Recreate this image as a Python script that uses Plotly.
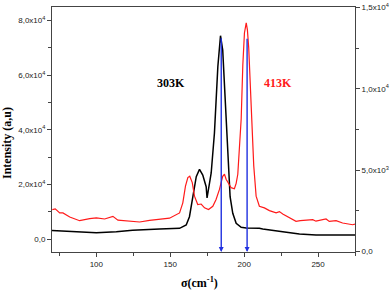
import plotly.graph_objects as go

# 303K (black, left axis)
x_303 = [70, 88.7, 100, 113.5, 124.5, 142.8, 156.3, 160.8, 163, 165.3, 167.6, 169.8, 172.0, 174.3,
         174.9, 177.7, 179.9, 182.2, 184.0, 185.5, 187.2, 188.9, 190.5, 192.3, 194.6, 198.0, 201.4,
         210.3, 212.6, 226.1, 237.4, 248.6, 273.4, 275]
y_303 = [3110, 2450, 2310, 2670, 3190, 3660, 3920, 5130, 8170, 15490, 22820, 25530, 23440, 19160,
         15020, 24180, 38830, 63110, 74470, 69230, 50920, 28940, 15490, 9410, 5750, 4290, 4030,
         3920, 3660, 2670, 1830, 1470, 1470, 1470]

# 413K (red, right axis)
x_413 = [70.2, 72.2, 75.2, 77.4, 82.0, 88.7, 95.5, 100, 105.6, 111.2, 114.6, 122.5, 129.3, 136.0,
         142.8, 149.5, 156.3, 158.5, 160.3, 161.9, 163.2, 164.9, 166.4, 168.6, 170.9, 173.2, 175.9,
         178.8, 181.0, 183.3, 185.5, 186.7, 187.8, 191.2, 193.4, 194.6, 195.7, 196.8, 198.0, 199.1,
         200.2, 201.4, 202.2, 203.1, 204.7, 206.5, 208.1, 210.3, 213.7, 217.1, 221.6, 223.9, 226.1,
         230.6, 235.1, 238.0, 241.9, 246.4, 248.6, 253.1, 255.4, 257.6, 262.2, 266.6, 268.9, 273.4, 275]
y_413 = [2584, 2627, 2379, 2379, 2131, 1902, 2026, 2069, 2007, 2169, 1933, 1884, 1822, 1921,
         2007, 2057, 2379, 2999, 4027, 4548, 4628, 4238, 3408, 2894, 2925, 2689, 2584,
         2788, 3203, 3823, 4628, 4752, 4443, 3928, 3866, 4195, 4752, 6611, 8160, 11463,
         13427, 14047, 13613, 12497, 9399, 5267, 3408, 2788, 2689, 2522, 2379, 2460, 2317,
         2069, 1859, 1902, 1921, 1964, 1871, 1964, 2007, 1859, 1902, 1760, 1729, 1654, 1698]

left_ticks = [0, 20000, 40000, 60000, 80000]
left_labels = ["0,0", "2,0x10<sup>4</sup>", "4,0x10<sup>4</sup>", "6,0x10<sup>4</sup>", "8,0x10<sup>4</sup>"]
right_ticks = [0, 5000, 10000, 15000]
right_labels = ["0,0", "5,0x10<sup>3</sup>", "1,0x10<sup>4</sup>", "1,5x10<sup>4</sup>"]
x_ticks = [100, 150, 200, 250]

peak_positions = [184.5, 202.0]
peak_tops = [74100, 73900]

fig = go.Figure()
fig.add_trace(go.Scatter(x=x_303, y=y_303, mode="lines", line=dict(color="black", width=1.5),
                         yaxis="y", showlegend=False))
fig.add_trace(go.Scatter(x=x_413, y=y_413, mode="lines", line=dict(color="#ff1a1a", width=1.2),
                         yaxis="y2", showlegend=False))

for xp, yt in zip(peak_positions, peak_tops):
    fig.add_annotation(x=xp, y=-4760, ax=xp, ay=yt, xref="x", yref="y", axref="x", ayref="y",
                       text="", showarrow=True, arrowhead=2, arrowsize=0.7, arrowwidth=1.4,
                       arrowcolor="#2030e0")

fig.add_annotation(x=150.7, y=57140, xref="x", yref="y", text="<b>303K</b>", showarrow=False,
                   font=dict(family="Liberation Serif", size=12, color="black"))
fig.add_annotation(x=223.2, y=57140, xref="x", yref="y", text="<b>413K</b>", showarrow=False,
                   font=dict(family="Liberation Serif", size=12, color="#ff1a1a"))

# axis titles
fig.add_annotation(x=-0.1485, y=0.445, xref="paper", yref="paper", text="<b>Intensity (a,u)</b>",
                   textangle=-90, showarrow=False, xanchor="center", yanchor="middle",
                   font=dict(family="Liberation Serif", size=12, color="black"))
fig.add_annotation(x=0.488, y=-0.1265, xref="paper", yref="paper", text="<b>σ(cm<sup>-1</sup>)</b>",
                   showarrow=False, xanchor="center", yanchor="middle",
                   font=dict(family="Liberation Serif", size=12, color="black"))

axis_common = dict(showgrid=False, zeroline=False, showline=True, linecolor="#444", linewidth=1,
                   ticks="outside", ticklen=4, tickcolor="#444",
                   tickfont=dict(family="Liberation Sans", size=8, color="#222"))

fig.update_layout(
    width=390, height=290,
    margin=dict(l=52, r=35, t=7, b=38, autoexpand=False),
    plot_bgcolor="white", paper_bgcolor="white",
    xaxis=dict(range=[70, 275], tickmode="array", tickvals=x_ticks, mirror=True,
               minor=dict(tickmode="array", tickvals=[75, 125, 175, 225, 275], ticks="outside",
                          ticklen=3, tickcolor="#444"),
               **axis_common),
    yaxis=dict(range=[-4760, 84980], tickmode="array", tickvals=left_ticks, ticktext=left_labels,
               minor=dict(tickmode="array", tickvals=[10000, 30000, 50000, 70000], ticks="outside",
                          ticklen=3, tickcolor="#444"),
               **axis_common),
    yaxis2=dict(range=[-20, 15020], overlaying="y", side="right", tickmode="array",
                tickvals=right_ticks, ticktext=right_labels,
                minor=dict(tickmode="array", tickvals=[2500, 7500, 12500], ticks="outside",
                           ticklen=3, tickcolor="#444"),
                **axis_common),
)

fig.write_html("out.html", config={"displayModeBar": False},
               post_script="document.body.style.margin='0';document.body.style.padding='0';")
